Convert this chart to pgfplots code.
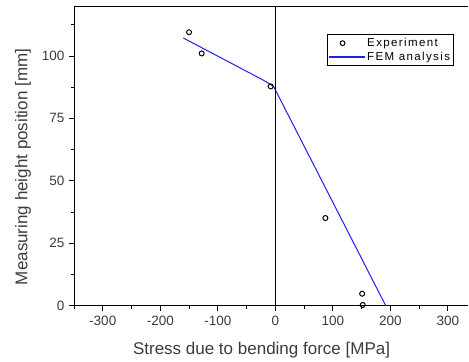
\documentclass[border=0pt]{standalone}
\usepackage{fontspec}
\setmainfont{Liberation Sans}
\newfontfamily\legfont[LetterSpace=12]{Liberation Sans}
\usepackage{pgfplots}
\pgfplotsset{compat=1.18}
\definecolor{femblue}{RGB}{30,30,240}
\definecolor{txtgray}{RGB}{60,60,60}
\begin{document}
\begin{tikzpicture}
\useasboundingbox (-74bp,-56.3bp) rectangle (395bp,305.7bp);
\begin{axis}[
  scale only axis,
  width=394bp, height=299.7bp,
  xmin=-350, xmax=335,
  ymin=0, ymax=120,
  axis x line*=bottom,
  axis y line*=left,
  axis line style={black, line width=0.9bp},
  xtick={-300,-200,-100,0,100,200,300},
  minor xtick={-350,-250,-150,-50,50,150,250},
  ytick={0,25,50,75,100},
  minor ytick={12.5,37.5,62.5,87.5,112.5},
  tick align=outside,
  major tick length=5bp,
  minor tick length=3bp,
  tick style={black, line width=0.8bp},
  /pgf/number format/assume math mode=true,
  ticklabel style={font=\fontsize{13.5bp}{15bp}\selectfont, text=txtgray},
  xticklabel style={yshift=-2bp},
  yticklabel style={xshift=-1bp},
  xlabel={Stress due to bending force [MPa]},
  ylabel={Measuring height position [mm]},
  label style={font=\fontsize{17bp}{19bp}\selectfont, text=txtgray},
  xlabel style={at={(axis description cs:0.476,0)}, anchor=center, yshift=-44.3bp},
  ylabel style={at={(axis description cs:-0.1294,0.463)}, anchor=center},
  legend style={at={(rel axis cs:0.963,0.907)}, anchor=north east,
    line width=0.8bp, font=\legfont\fontsize{11.5bp}{12bp}\selectfont,
    inner xsep=1bp, inner ysep=2bp, row sep=0bp},
  legend cell align=left,
  clip=true,
]
\addplot[only marks, mark=o, mark size=2.5bp, mark options={black, line width=1bp},
  legend image code/.code={\draw[black, line width=1bp] (14bp,0bp) circle[radius=2.4bp];}]
  coordinates {(-150,109.5) (-128,101) (-8,87.8) (87,35.1) (151,4.8) (152,0.3)};
\addlegendentry{Experiment}
\addplot[color=femblue, line width=1bp,
  legend image code/.code={\draw[femblue, line width=1.3bp] (0bp,0bp) -- (36bp,0bp);}]
  coordinates {(-160,107.2) (-20,90.2) (-3,87.8) (192,0)};
\addlegendentry{FEM analysis}
\addplot[black, line width=0.9bp, forget plot]
  coordinates {(0,0) (0,120)};
\end{axis}
\draw[black, line width=0.9bp] (0,299.7bp) -- (394bp,299.7bp);
\end{tikzpicture}
\end{document}
